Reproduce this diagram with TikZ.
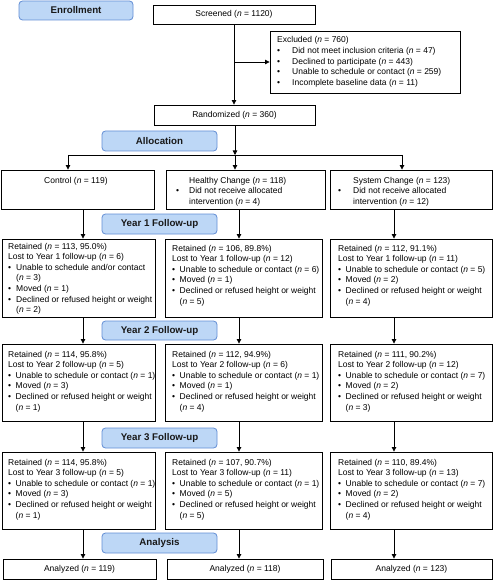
\documentclass[tikz,border=0pt]{standalone}
\usepackage{fontspec}
\setmainfont{Liberation Sans}
\usetikzlibrary{arrows.meta}
\definecolor{labfill}{RGB}{189,215,246}
\definecolor{labdraw}{RGB}{98,142,212}
\newcommand\nn{\textit{n}}
\newcommand\bl[2][7.5pt]{\makebox[#1][l]{\textbullet}#2}
\newcommand\ct[2][7.5pt]{\hspace*{#1}#2}
\newcommand\mkbox[7][flowbox]{\node[#1, minimum width={(#5-#3)*1pt}, minimum height={(#6-#4)*1pt}] (#2) at ({(#3+#5)/2},{(#4+#6)/2}) {#7};}
\newcommand\lines[1]{\begin{tabular}[t]{@{}l@{}}#1\end{tabular}}
\begin{document}
\begin{tikzpicture}[x=1pt, y=-1pt,
  flowbox/.style={draw, line width=0.9pt, inner sep=0pt, font=\fontsize{8.5}{10.6}\selectfont},
  lab/.style={draw=labdraw, fill=labfill, rounded corners=3.5pt, line width=0.8pt, inner sep=0pt, font=\fontsize{9.75}{12}\selectfont\bfseries, text=black!90},
  txt/.style={anchor=base west, inner sep=0pt, font=\fontsize{8.5}{10.6}\selectfont},
  arr/.style={-{Triangle[length=4.5pt,width=4.5pt]}, line width=0.8pt},
  conn/.style={line width=0.8pt}]
\useasboundingbox (0,0) rectangle (494,580);
% labels
\mkbox[lab]{enr}{19}{1}{133}{20}{Enrollment}
\mkbox[lab]{alo}{102}{131}{217}{151}{Allocation}
\mkbox[lab]{fy1}{102}{214}{217}{234}{Year 1 Follow-up}
\mkbox[lab]{fy2}{102}{321}{217}{340}{Year 2 Follow-up}
\mkbox[lab]{fy3}{102}{428}{217}{448}{Year 3 Follow-up}
\mkbox[lab]{ana}{102}{533}{217}{553}{Analysis}
% enrollment
\mkbox{scr}{153}{5}{315}{24}{Screened (\nn{} = 1120)}
\mkbox{exc}{270}{31}{460}{93}{}
\node[txt] (t-exc) at (277,43) {\lines{Excluded (\nn{} = 760)\\
\bl[15pt]{Did not meet inclusion criteria (\nn{} = 47)}\\
\bl[15pt]{Declined to participate (\nn{} = 443)}\\
\bl[15pt]{Unable to schedule or contact (\nn{} = 259)}\\
\bl[15pt]{Incomplete baseline data (\nn{} = 11)}}};
\mkbox{rnd}{154}{105}{315}{125}{Randomized (\nn{} = 360)}
% allocation
\mkbox{c0}{1}{170}{154}{209}{}
\node[txt] (t-c0) at (44,183) {Control (\nn{} = 119)};
\mkbox{h0}{166}{170}{325}{209}{}
\node[txt] (t-h0) at (176,183) {\lines{\ct[13pt]{Healthy Change (\nn{} = 118)}\\
\bl[13pt]{Did not receive allocated}\\
\ct[13pt]{intervention (\nn{} = 4)}}};
\mkbox{s0}{330}{170}{492}{209}{}
\node[txt] (t-s0) at (338,183) {\lines{\ct[15pt]{System Change (\nn{} = 123)}\\
\bl[15pt]{Did not receive allocated}\\
\ct[15pt]{intervention (\nn{} = 12)}}};
% year 1
\mkbox{c1}{2}{239}{155}{317}{}
\node[txt] (t-c1) at (8,249) {\lines{Retained (\nn{} = 113, 95.0\%)\\
Lost to Year 1 follow-up (\nn{} = 6)\\
\bl[8pt]{Unable to schedule and/or contact}\\
\ct[8pt]{(\nn{} = 3)}\\
\bl[8pt]{Moved (\nn{} = 1)}\\
\bl[8pt]{Declined or refused height or weight}\\
\ct[8pt]{(\nn{} = 2)}}};
\mkbox{h1}{165}{239}{322}{317}{}
\node[txt] (t-h1) at (172,251) {\lines{Retained (\nn{} = 106, 89.8\%)\\
Lost to Year 1 follow-up (\nn{} = 12)\\
\bl{Unable to schedule or contact (\nn{} = 6)}\\
\bl{Moved (\nn{} = 1)}\\
\bl{Declined or refused height or weight}\\
\ct{(\nn{} = 5)}}};
\mkbox{s1}{330}{239}{492}{317}{}
\node[txt] (t-s1) at (338,251) {\lines{Retained (\nn{} = 112, 91.1\%)\\
Lost to Year 1 follow-up (\nn{} = 11)\\
\bl{Unable to schedule or contact (\nn{} = 5)}\\
\bl{Moved (\nn{} = 2)}\\
\bl{Declined or refused height or weight}\\
\ct{(\nn{} = 4)}}};
% year 2
\mkbox{c2}{2}{344}{155}{421}{}
\node[txt] (t-c2) at (8,357) {\lines{Retained (\nn{} = 114, 95.8\%)\\
Lost to Year 2 follow-up (\nn{} = 5)\\
\bl{Unable to schedule or contact (\nn{} = 1)}\\
\bl{Moved (\nn{} = 3)}\\
\bl{Declined or refused height or weight}\\
\ct{(\nn{} = 1)}}};
\mkbox{h2}{165}{344}{322}{421}{}
\node[txt] (t-h2) at (172,357) {\lines{Retained (\nn{} = 112, 94.9\%)\\
Lost to Year 2 follow-up (\nn{} = 6)\\
\bl{Unable to schedule or contact (\nn{} = 1)}\\
\bl{Moved (\nn{} = 1)}\\
\bl{Declined or refused height or weight}\\
\ct{(\nn{} = 4)}}};
\mkbox{s2}{330}{344}{492}{421}{}
\node[txt] (t-s2) at (338,357) {\lines{Retained (\nn{} = 111, 90.2\%)\\
Lost to Year 2 follow-up (\nn{} = 12)\\
\bl{Unable to schedule or contact (\nn{} = 7)}\\
\bl{Moved (\nn{} = 2)}\\
\bl{Declined or refused height or weight}\\
\ct{(\nn{} = 3)}}};
% year 3
\mkbox{c3}{2}{452}{155}{529}{}
\node[txt] (t-c3) at (8,465) {\lines{Retained (\nn{} = 114, 95.8\%)\\
Lost to Year 3 follow-up (\nn{} = 5)\\
\bl{Unable to schedule or contact (\nn{} = 1)}\\
\bl{Moved (\nn{} = 3)}\\
\bl{Declined or refused height or weight}\\
\ct{(\nn{} = 1)}}};
\mkbox{h3}{165}{452}{322}{529}{}
\node[txt] (t-h3) at (172,465) {\lines{Retained (\nn{} = 107, 90.7\%)\\
Lost to Year 3 follow-up (\nn{} = 11)\\
\bl{Unable to schedule or contact (\nn{} = 1)}\\
\bl{Moved (\nn{} = 5)}\\
\bl{Declined or refused height or weight}\\
\ct{(\nn{} = 5)}}};
\mkbox{s3}{330}{452}{492}{529}{}
\node[txt] (t-s3) at (338,465) {\lines{Retained (\nn{} = 110, 89.4\%)\\
Lost to Year 3 follow-up (\nn{} = 13)\\
\bl{Unable to schedule or contact (\nn{} = 7)}\\
\bl{Moved (\nn{} = 2)}\\
\bl{Declined or refused height or weight}\\
\ct{(\nn{} = 4)}}};
% analysis
\mkbox{c4}{3}{559}{156}{579}{Analyzed (\nn{} = 119)}
\mkbox{h4}{167}{559}{323}{579}{Analyzed (\nn{} = 118)}
\mkbox{s4}{331}{559}{492}{579}{Analyzed (\nn{} = 123)}
% connectors
\draw[arr] (scr.south) -- (scr.south |- rnd.north);
\coordinate (ex0) at (scr.south |- exc.west);
\draw[arr] (ex0) -- (exc.west);
\coordinate (j) at (235,155);
\coordinate (jc) at (68,155);
\coordinate (js) at (402,155);
\draw[arr] (rnd.south -| j) -- (j);
\draw[conn] (jc) -- (js);
\draw[arr] (jc) -- (jc |- c0.north);
\draw[arr] (j) -- (j |- h0.north);
\draw[arr] (js) -- (js |- s0.north);
\coordinate (xc) at (83,0);
\coordinate (xh) at (239,0);
\coordinate (xs) at (394,0);
\foreach \a/\b in {0/1,1/2,2/3,3/4}{
  \draw[arr] (c\a.south -| xc) -- (c\b.north -| xc);
  \draw[arr] (h\a.south -| xh) -- (h\b.north -| xh);
  \draw[arr] (s\a.south -| xs) -- (s\b.north -| xs);
}
\end{tikzpicture}
\end{document}
